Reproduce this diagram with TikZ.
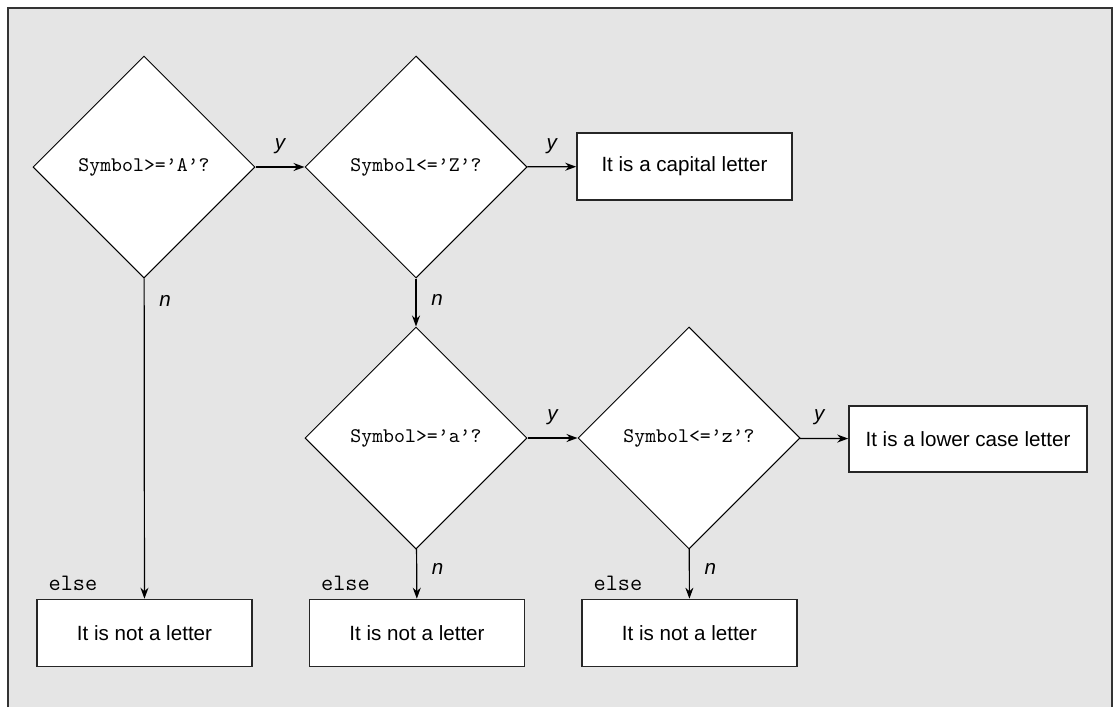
\documentclass[tikz,border=0pt]{standalone}
\usepackage{fontspec}
\setmainfont{Liberation Sans}
\usetikzlibrary{shapes.geometric, arrows.meta}
\tikzset{>={Stealth[length=5.5pt,width=4pt]}}
\tikzset{
  test/.style={diamond, draw, fill=white, line width=0.5pt, inner sep=0pt,
    minimum width=111pt, minimum height=111pt, font=\fontsize{10.4}{12}\selectfont\ttfamily},
  outcome/.style={rectangle, draw=black!85, fill=white, line width=0.8pt,
    minimum width=107.5pt, minimum height=33.5pt, font=\fontsize{10.3}{12}\selectfont},
  yn/.style={font=\fontsize{10.3}{12}\selectfont\itshape},
  elsetag/.style={font=\fontsize{11.8}{13}\selectfont\ttfamily, inner sep=0pt, anchor=base west},
  flow/.style={->, line width=0.6pt}
}

\begin{document}
\begin{tikzpicture}[x=0.5pt, y=-0.5pt]
    \useasboundingbox (0,0) rectangle (1118,707);
    \filldraw[fill=black!10, draw=black!80, line width=1pt] (8,707) -- (8,8) -- (1112,8) -- (1112,707);
    % the four tests
    \node[test] (upA) at (144,167) {Symbol>=’A’?};
    \node[test] (upZ) at (416,167) {Symbol<=’Z’?};
    \node[test] (lowa) at (416,438) {Symbol>=’a’?};
    \node[test] (lowz) at (689,438) {Symbol<=’z’?};
    % outcomes
    \node[outcome] (capital) at (684.5,166.5) {It is a capital letter};
    \node[outcome, minimum width=119pt, minimum height=33pt] (lower) at (968,439) {It is a lower case letter};
    \node[outcome] (none1) at (144.5,633) {It is not a letter};
    \node[outcome] (none2) at (417,633) {It is not a letter};
    \node[outcome] (none3) at (689.5,633) {It is not a letter};
    \node[elsetag] (else1) at ([shift={(12,-8)}]none1.north west) {else};
    \node[elsetag] (else2) at ([shift={(12,-8)}]none2.north west) {else};
    \node[elsetag] (else3) at ([shift={(12,-8)}]none3.north west) {else};
    % connectors
    \draw[flow] (upA) -- node[yn, above=3pt] {y} (upZ);
    \draw[flow] (upZ) -- node[yn, above=3pt] {y} (capital);
    \draw[flow] (lowa) -- node[yn, above=3pt] {y} (lowz);
    \draw[flow] (lowz) -- node[yn, above=3pt, pos=0.4] {y} (lower);
    \draw[flow] (upA) -- node[yn, right=4pt, pos=0.07] {n} (none1);
    \draw[flow] (upZ) -- node[yn, right=4pt, pos=0.45] {n} (lowa);
    \draw[flow] (lowa) -- node[yn, right=4pt, pos=0.4] {n} (none2);
    \draw[flow] (lowz) -- node[yn, right=4pt, pos=0.4] {n} (none3);
\end{tikzpicture}
\end{document}
